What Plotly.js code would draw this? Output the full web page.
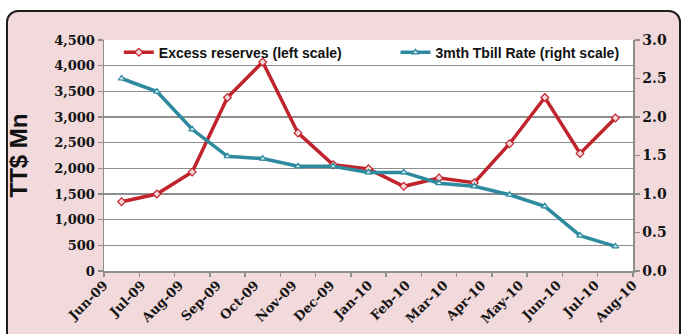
<!DOCTYPE html>
<html>
<head>
<meta charset="utf-8">
<script src="https://cdn.plot.ly/plotly-3.0.1.min.js"></script>
<style>
  html, body { margin: 0; padding: 0; background: #ffffff; }
  #wrap { position: relative; width: 682px; height: 334px; overflow: hidden; }
  #frame {
    position: absolute; left: 6px; top: 10px; width: 675px; height: 345px;
    background: #f2d9db; border: 2px solid #1e1e1e; border-radius: 12px; box-sizing: border-box;
  }
  #chart { position: absolute; left: 0; top: 0; width: 682px; height: 334px; }
</style>
</head>
<body>
<div id="wrap"><div id="frame"></div><div id="chart"></div></div>
<script>
// Month labels along the bottom axis
const months = ['Jun-09', 'Jul-09', 'Aug-09', 'Sep-09', 'Oct-09', 'Nov-09', 'Dec-09',
                'Jan-10', 'Feb-10', 'Mar-10', 'Apr-10', 'May-10', 'Jun-10', 'Jul-10', 'Aug-10'];

// Excess reserves, TT$ Mn (left scale)
const excessReserves = [1350, 1500, 1930, 3380, 4070, 2690, 2070, 1990, 1650, 1810, 1720, 2480, 3380, 2290, 2980];

// 3-month Treasury bill rate, % (right scale)
const tbillRate = [2.50, 2.33, 1.84, 1.49, 1.46, 1.36, 1.36, 1.28, 1.28, 1.14, 1.10, 0.99, 0.84, 0.46, 0.32];

const nCat = excessReserves.length;
const xPts = excessReserves.map((_, i) => i + 0.5);
const labelStep = nCat / (months.length - 1);
const labelPos = months.map((_, i) => i * labelStep);
const boundaryTicks = Array.from({ length: nCat + 1 }, (_, i) => i);

const RED = '#c1232c';
const BLUE = '#2e8a9f';
const GRID = '#8e8e8e';
const tickFont = { family: 'DejaVu Serif', size: 13, color: '#141414', weight: 'bold' };

const traces = [
  {
    x: xPts, y: excessReserves, type: 'scatter', mode: 'lines+markers',
    name: 'Excess reserves (left scale)', legend: 'legend',
    xaxis: 'x', yaxis: 'y',
    line: { color: RED, width: 3.5 },
    marker: { symbol: 'diamond', size: 6, color: '#f4d6d8', line: { color: RED, width: 1.2 } }
  },
  {
    x: xPts, y: tbillRate, type: 'scatter', mode: 'lines+markers',
    name: '3mth Tbill Rate (right scale)', legend: 'legend2',
    xaxis: 'x2', yaxis: 'y2',
    line: { color: BLUE, width: 3.5 },
    marker: { symbol: 'triangle-up', size: 6, color: '#cfe6ec', line: { color: BLUE, width: 1.2 } }
  }
];

const legendFont = { family: 'Liberation Sans', size: 14, color: '#111111', weight: 'bold' };

const layout = {
  width: 682, height: 334,
  margin: { l: 104, r: 49, t: 40, b: 63 },
  paper_bgcolor: 'rgba(0,0,0,0)',
  plot_bgcolor: '#ffffff',
  showlegend: true,
  xaxis: {
    range: [0, nCat], tickmode: 'array', tickvals: labelPos, ticktext: months,
    tickangle: -45, tickfont: tickFont, ticks: '', showgrid: false, zeroline: false,
    showline: true, linecolor: GRID, linewidth: 1.5, fixedrange: true
  },
  xaxis2: {
    range: [0, nCat], overlaying: 'x', anchor: 'y', side: 'bottom',
    tickmode: 'array', tickvals: boundaryTicks, showticklabels: false,
    ticks: 'outside', ticklen: 5, tickcolor: GRID, tickwidth: 1.5,
    showgrid: false, zeroline: false, showline: false
  },
  yaxis: {
    range: [0, 4500], dtick: 500, tick0: 0, tickformat: ',d',
    tickfont: tickFont, ticks: 'outside', ticklen: 5, tickcolor: GRID, tickwidth: 1.5,
    showgrid: true, gridcolor: GRID, gridwidth: 1.5, zeroline: false,
    showline: true, linecolor: GRID, linewidth: 1.5,
    title: { text: 'TT$ Mn', font: { family: 'Liberation Sans', size: 24, color: '#111111', weight: 'bold' }, standoff: 20 }
  },
  yaxis2: {
    range: [0, 3], dtick: 0.5, tick0: 0, tickformat: '.1f',
    overlaying: 'y', side: 'right', anchor: 'x2',
    tickfont: { family: 'DejaVu Serif', size: 14, color: '#141414', weight: 'bold' },
    ticks: 'outside', ticklen: 5, tickcolor: GRID, tickwidth: 1.5,
    showgrid: false, zeroline: false, showline: true, linecolor: GRID, linewidth: 1.5
  },
  legend: {
    orientation: 'h', x: 0.028, xanchor: 'left', y: 0.945, yanchor: 'middle',
    bgcolor: 'rgba(0,0,0,0)', font: legendFont, itemwidth: 30
  },
  legend2: {
    orientation: 'h', x: 0.551, xanchor: 'left', y: 0.945, yanchor: 'middle',
    bgcolor: 'rgba(0,0,0,0)', font: legendFont, itemwidth: 30
  }
};

Plotly.newPlot('chart', traces, layout, { displayModeBar: false, staticPlot: true });
</script>
</body>
</html>
